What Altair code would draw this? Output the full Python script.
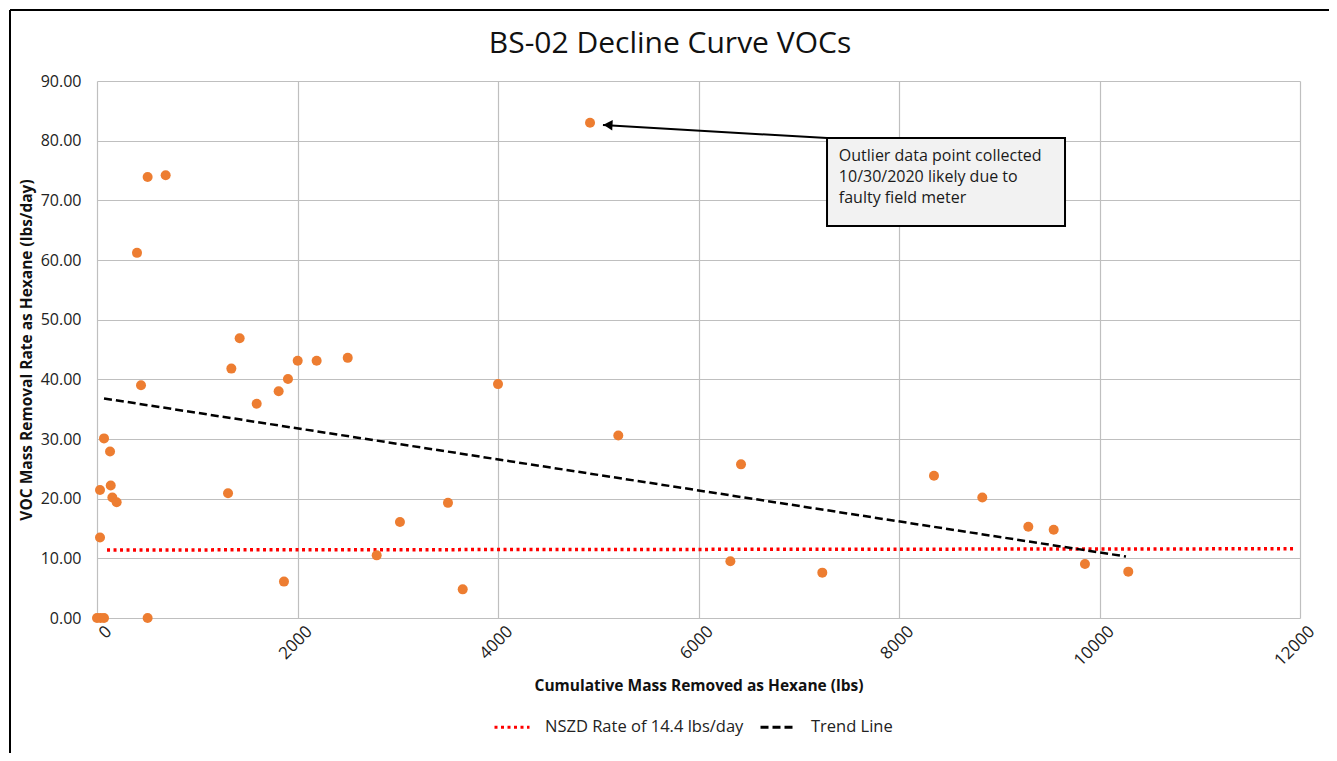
import altair as alt
import pandas as pd

title_text = "BS-02 Decline Curve VOCs"
x_title = "Cumulative Mass Removed as Hexane (lbs)"
y_title = "VOC Mass Removal Rate as Hexane (lbs/day)"

mass = [0, 35, 70, 505, 505, 685, 399, 439, 70, 130, 30, 137, 153, 196, 30,
        1340, 1423, 1307, 1593, 1812, 1905, 2002, 2191, 2501, 1865, 2790,
        4000, 3022, 3501, 3648, 4918, 5200, 6424, 6318, 7235, 8349, 8831,
        9290, 9543, 9855, 10287]
rate = [0, 0, 0, 0, 73.9, 74.2, 61.2, 39.0, 30.1, 27.9, 21.45, 22.2, 20.2,
        19.4, 13.5, 41.8, 46.9, 20.9, 35.9, 38.0, 40.05, 43.1, 43.1, 43.6,
        6.1, 10.5, 39.2, 16.1, 19.3, 4.8, 83.0, 30.6, 25.75, 9.5, 7.6, 23.85,
        20.2, 15.3, 14.8, 9.05, 7.77]

series_names = ["NSZD Rate of 14.4 lbs/day", "Trend Line"]
series_colors = ["#FF0000", "#000000"]
nszd_x = [100, 11950]
nszd_y = [11.4, 11.6]
trend_x = [70, 10264]
trend_y = [36.8, 10.3]

x_ticks = [0, 2000, 4000, 6000, 8000, 10000, 12000]
y_ticks = [0, 10, 20, 30, 40, 50, 60, 70, 80, 90]

note_lines = ["Outlier data point collected", "10/30/2020 likely due to", "faulty field meter"]
note_box_x = [7282, 9656]
note_box_y = [80.44, 65.7]
note_text_x = [7400, 7400, 7400]
note_text_y = [77.4, 73.9, 70.45]
arrow_x = [7282, 5047]
arrow_y = [80.44, 82.62]

FONT = "Open Sans"
W, H = 1203, 537

xs = alt.Scale(domain=[0, 12000], nice=False)
ys = alt.Scale(domain=[0, 90], nice=False)

pts = pd.DataFrame({"x": mass, "y": rate})
lines = pd.DataFrame({
    "x": nszd_x + trend_x,
    "y": nszd_y + trend_y,
    "series": [series_names[0]] * 2 + [series_names[1]] * 2,
})

base_x = alt.X("x:Q", scale=xs, title=x_title,
               axis=alt.Axis(values=x_ticks, labelAngle=-45, labelAlign="right",
                             labelBaseline="top", labelPadding=5, labelOffset=6,
                             labelFontSize=17, titlePadding=10, format="d"))
base_y = alt.Y("y:Q", scale=ys, title=y_title,
               axis=alt.Axis(values=y_ticks, format=".2f", labelPadding=16,
                             titlePadding=6))

points = alt.Chart(pts).mark_circle(size=100, color="#ED7D31", opacity=1).encode(
    x=base_x, y=base_y)

legend = alt.Legend(title=None, orient="none", legendX=396, legendY=627,
                    direction="horizontal", symbolType="stroke",
                    symbolSize=1225, symbolStrokeWidth=3, labelLimit=400,
                    labelFontSize=16.5, labelFont=FONT, labelColor="#222",
                    labelOffset=14, columnPadding=10)
color_enc = alt.Color("series:N", scale=alt.Scale(domain=series_names, range=series_colors),
                      legend=legend)
dash_enc = alt.StrokeDash("series:N", scale=alt.Scale(domain=series_names,
                                                      range=[[3, 3.5], [8, 4]]),
                          legend=legend)

nszd_line = alt.Chart(lines).transform_filter(
    alt.datum.series == series_names[0]).mark_line(strokeWidth=3.5).encode(
    x="x:Q", y="y:Q", color=color_enc, strokeDash=dash_enc)
trend_line = alt.Chart(lines).transform_filter(
    alt.datum.series == series_names[1]).mark_line(strokeWidth=2.5).encode(
    x="x:Q", y="y:Q", color=color_enc, strokeDash=dash_enc)

arrow_df = pd.DataFrame({"x": [arrow_x[0]], "y": [arrow_y[0]],
                         "x2": [arrow_x[1]], "y2": [arrow_y[1]]})
arrow = alt.Chart(arrow_df).mark_rule(color="black", strokeWidth=2).encode(
    x="x:Q", y="y:Q", x2="x2:Q", y2="y2:Q")
head = alt.Chart(pd.DataFrame({"x": [arrow_x[1]], "y": [arrow_y[1]]})).mark_point(
    shape="triangle-left", filled=True, color="black", size=110, angle=3, opacity=1,
    xOffset=5).encode(x="x:Q", y="y:Q")

box_df = pd.DataFrame({"x": [note_box_x[0]], "x2": [note_box_x[1]],
                       "y": [note_box_y[0]], "y2": [note_box_y[1]]})
box = alt.Chart(box_df).mark_rect(fill="#F2F2F2", stroke="black", strokeWidth=2).encode(
    x="x:Q", x2="x2:Q", y="y:Q", y2="y2:Q")
note_df = pd.DataFrame({"x": note_text_x, "y": note_text_y, "t": note_lines})
note = alt.Chart(note_df).mark_text(align="left", baseline="middle", fontSize=16,
                                    font=FONT, color="#1a1a1a").encode(
    x="x:Q", y="y:Q", text="t:N")

title_df = pd.DataFrame({"t": [title_text]})
title_mark = alt.Chart(title_df).mark_text(align="center", baseline="middle", fontSize=30,
                                           font=FONT, color="#111").encode(
    x=alt.value(573), y=alt.value(-37), text="t:N")

frame_df = pd.DataFrame({"a": [0]})
frame_left = alt.Chart(frame_df).mark_rule(color="black", strokeWidth=2).encode(
    x=alt.value(-87), y=alt.value(-71), y2=alt.value(700))
frame_right = alt.Chart(frame_df).mark_rule(color="black", strokeWidth=2).encode(
    x=alt.value(1236), y=alt.value(-71), y2=alt.value(700))
frame_top = alt.Chart(frame_df).mark_rule(color="black", strokeWidth=2).encode(
    x=alt.value(-87), x2=alt.value(1236), y=alt.value(-71))

chart = alt.layer(
    nszd_line, trend_line, points, arrow, head, box, note, title_mark,
    frame_left, frame_right, frame_top
).resolve_scale(color="shared", strokeDash="shared").properties(
    width=W, height=H, background="white",
    autosize=alt.AutoSizeParams(type="none"),
    padding={"left": 89, "top": 73, "right": 29, "bottom": 135},
).configure_view(stroke=None).configure_axis(
    grid=True, gridColor="#BFBFBF", gridWidth=1.2, domain=False, ticks=False,
    labelFont=FONT, labelFontSize=16, labelColor="#222",
    titleFont=FONT, titleFontSize=15.5, titleFontWeight="bold", titleColor="#111",
)

chart.save("out.html", embed_options={"renderer": "svg", "actions": False})
